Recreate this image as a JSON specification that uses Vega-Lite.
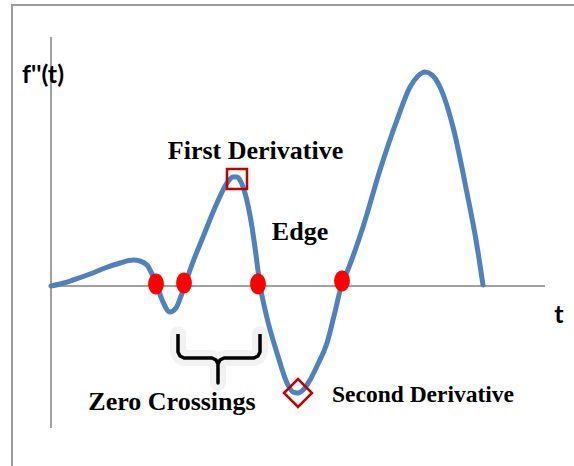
{
  "$schema": "https://vega.github.io/schema/vega-lite/v6.json",
  "width": 574,
  "height": 466,
  "padding": 0,
  "autosize": {"type": "none"},
  "config": {"view": {"stroke": null}},
  "datasets": {
    "frame": [{"t0": -39, "t1": 530, "f0": 281, "f1": -190}],
    "axes": [
      {"axis": "f", "t0": 0, "t1": 0, "f0": -142, "f1": 249},
      {"axis": "t", "t0": 0, "t1": 494, "f0": 0, "f1": 0}
    ],
    "curve": [
      {"t": 0, "f": 0}, {"t": 9, "f": 2}, {"t": 22, "f": 6}, {"t": 39, "f": 12},
      {"t": 54, "f": 18}, {"t": 69, "f": 23}, {"t": 82, "f": 26}, {"t": 89, "f": 25},
      {"t": 96, "f": 21}, {"t": 101, "f": 12}, {"t": 106, "f": 0}, {"t": 112, "f": -16},
      {"t": 119, "f": -26}, {"t": 125, "f": -22}, {"t": 130, "f": -10}, {"t": 135, "f": 4},
      {"t": 139, "f": 16}, {"t": 152, "f": 49}, {"t": 166, "f": 83}, {"t": 176, "f": 103},
      {"t": 182, "f": 109}, {"t": 186, "f": 109}, {"t": 190, "f": 104}, {"t": 194, "f": 93},
      {"t": 201, "f": 59}, {"t": 205, "f": 31}, {"t": 209, "f": 1}, {"t": 213, "f": -19},
      {"t": 217, "f": -36}, {"t": 226, "f": -67}, {"t": 236, "f": -97}, {"t": 242, "f": -106},
      {"t": 247, "f": -107}, {"t": 252, "f": -104}, {"t": 259, "f": -94}, {"t": 267, "f": -78},
      {"t": 276, "f": -57}, {"t": 283, "f": -30}, {"t": 291, "f": 2}, {"t": 294, "f": 9},
      {"t": 312, "f": 59}, {"t": 329, "f": 116}, {"t": 346, "f": 166}, {"t": 359, "f": 199},
      {"t": 367, "f": 210}, {"t": 374, "f": 214}, {"t": 381, "f": 211}, {"t": 389, "f": 199},
      {"t": 402, "f": 159}, {"t": 416, "f": 93}, {"t": 425, "f": 46}, {"t": 432, "f": 1}
    ],
    "crossings": [
      {"t": 105, "f": 2}, {"t": 133, "f": 3}, {"t": 207, "f": 2}, {"t": 291, "f": 5}
    ],
    "brace": [
      {"i": 1, "t": 127, "f": -48}, {"i": 2, "t": 127, "f": -66}, {"i": 3, "t": 129, "f": -70},
      {"i": 4, "t": 133, "f": -72}, {"i": 5, "t": 161, "f": -72}, {"i": 6, "t": 165, "f": -74},
      {"i": 7, "t": 167, "f": -78}, {"i": 8, "t": 167, "f": -97}, {"i": 9, "t": 167, "f": -78},
      {"i": 10, "t": 169, "f": -74}, {"i": 11, "t": 173, "f": -72}, {"i": 12, "t": 203, "f": -72},
      {"i": 13, "t": 207, "f": -70}, {"i": 14, "t": 209, "f": -66}, {"i": 15, "t": 209, "f": -48}
    ]
  },
  "encoding": {
    "x": {"type": "quantitative", "scale": {"domain": [-51, 523], "nice": false, "zero": false}, "axis": null},
    "y": {"type": "quantitative", "scale": {"domain": [-180, 286], "nice": false, "zero": false}, "axis": null}
  },
  "layer": [
    {
      "data": {"name": "frame"},
      "mark": {"type": "rect", "fill": null, "stroke": "#9c9c9c", "strokeWidth": 2},
      "encoding": {
        "x": {"field": "t0", "type": "quantitative"},
        "x2": {"field": "t1"},
        "y": {"field": "f0", "type": "quantitative"},
        "y2": {"field": "f1"}
      }
    },
    {
      "data": {"name": "axes"},
      "mark": {"type": "rule", "color": "#a0a0a0", "strokeWidth": 2},
      "encoding": {
        "x": {"field": "t0", "type": "quantitative"},
        "x2": {"field": "t1"},
        "y": {"field": "f0", "type": "quantitative"},
        "y2": {"field": "f1"}
      }
    },
    {
      "data": {"name": "brace"},
      "mark": {"type": "line", "color": "#000000", "strokeWidth": 16, "opacity": 0.05, "strokeJoin": "round", "strokeCap": "round"},
      "encoding": {
        "x": {"field": "t", "type": "quantitative"},
        "y": {"field": "f", "type": "quantitative"},
        "order": {"field": "i"}
      }
    },
    {
      "data": {"name": "brace"},
      "mark": {"type": "line", "color": "#000000", "strokeWidth": 3.5, "strokeJoin": "round"},
      "encoding": {
        "x": {"field": "t", "type": "quantitative"},
        "y": {"field": "f", "type": "quantitative"},
        "order": {"field": "i"}
      }
    },
    {
      "data": {"name": "curve"},
      "mark": {"type": "line", "color": "#4f81bd", "strokeWidth": 5, "interpolate": "monotone", "strokeCap": "round"},
      "encoding": {
        "x": {"field": "t", "type": "quantitative"},
        "y": {"field": "f", "type": "quantitative"}
      }
    },
    {
      "data": {"name": "crossings"},
      "mark": {"type": "point", "filled": true, "color": "#ff0000", "opacity": 1, "size": 440,
               "shape": "M-0.75,0A0.75,1,0,1,0,0.75,0A0.75,1,0,1,0,-0.75,0Z"},
      "encoding": {
        "x": {"field": "t", "type": "quantitative"},
        "y": {"field": "f", "type": "quantitative"}
      }
    },
    {
      "data": {"values": [{"t": 186, "f": 107}]},
      "mark": {"type": "point", "shape": "square", "size": 400, "filled": false, "stroke": "#c00000", "strokeWidth": 2.5, "opacity": 1},
      "encoding": {
        "x": {"field": "t", "type": "quantitative"},
        "y": {"field": "f", "type": "quantitative"}
      }
    },
    {
      "data": {"values": [{"t": 247, "f": -107}]},
      "mark": {"type": "point", "shape": "diamond", "size": 784, "filled": false, "stroke": "#c00000", "strokeWidth": 2.5, "opacity": 1},
      "encoding": {
        "x": {"field": "t", "type": "quantitative"},
        "y": {"field": "f", "type": "quantitative"}
      }
    },
    {
      "data": {"values": [
        {"label": "f''(t)", "t": -8, "f": 203},
        {"label": "t", "t": 508, "f": -37}
      ]},
      "mark": {"type": "text", "font": "Lato", "fontWeight": "bold", "fontSize": 25, "align": "center", "baseline": "alphabetic", "color": "#000000"},
      "encoding": {
        "x": {"field": "t", "type": "quantitative"},
        "y": {"field": "f", "type": "quantitative"},
        "text": {"field": "label"}
      }
    },
    {
      "data": {"values": [
        {"label": "First Derivative", "t": 204.5, "f": 127},
        {"label": "Edge", "t": 249, "f": 46},
        {"label": "Zero Crossings", "t": 121, "f": -124}
      ]},
      "mark": {"type": "text", "font": "Liberation Serif", "fontWeight": "bold", "fontSize": 26, "align": "center", "baseline": "alphabetic", "color": "#000000"},
      "encoding": {
        "x": {"field": "t", "type": "quantitative"},
        "y": {"field": "f", "type": "quantitative"},
        "text": {"field": "label"}
      }
    },
    {
      "data": {"values": [
        {"label": "Second Derivative", "t": 372, "f": -116}
      ]},
      "mark": {"type": "text", "font": "Liberation Serif", "fontWeight": "bold", "fontSize": 23.5, "align": "center", "baseline": "alphabetic", "color": "#000000"},
      "encoding": {
        "x": {"field": "t", "type": "quantitative"},
        "y": {"field": "f", "type": "quantitative"},
        "text": {"field": "label"}
      }
    }
  ]
}
